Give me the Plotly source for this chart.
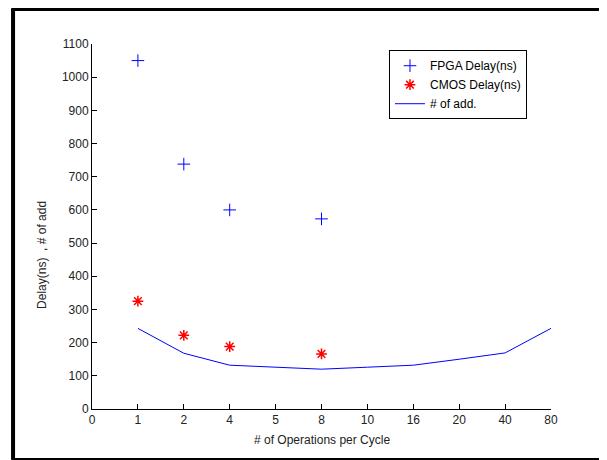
import plotly.graph_objects as go

# x positions are evenly spaced, labelled with the operation counts
tick_pos = [0, 1, 2, 3, 4, 5, 6, 7, 8, 9, 10]
tick_labels = ['0', '1', '2', '4', '5', '8', '10', '16', '20', '40', '80']

fpga_x = [1, 2, 3, 5]
fpga_delay = [1050, 738, 600, 573]

cmos_x = [1, 2, 3, 5]
cmos_delay = [325, 222, 188, 166]

add_x = [1, 2, 3, 4, 5, 6, 7, 8, 9, 10]
num_add = [243, 168, 132, 126, 120, 126, 132, 150, 169, 243]

font = dict(family='Arial, Liberation Sans, sans-serif', size=12, color='#222222')

fig = go.Figure()
fig.add_trace(go.Scatter(
    x=fpga_x, y=fpga_delay, mode='markers', name='FPGA Delay(ns)',
    marker=dict(symbol='cross-thin-open', size=9, color='blue', line=dict(color='blue', width=1))
))
fig.add_trace(go.Scatter(
    x=cmos_x, y=cmos_delay, mode='markers', name='CMOS Delay(ns)',
    marker=dict(symbol='asterisk-open', size=9, color='red', line=dict(color='red', width=1.5))
))
fig.add_trace(go.Scatter(
    x=add_x, y=num_add, mode='lines', name='# of add.',
    line=dict(color='blue', width=1)
))

# page has an 8px body margin, so margins are shifted to compensate
fig.update_layout(
    width=607, height=460,
    margin=dict(l=84, r=64, t=36, b=59),
    paper_bgcolor='white', plot_bgcolor='white',
    font=font,
    showlegend=True,
    legend=dict(
        x=0.647, y=0.983, xanchor='left', yanchor='top',
        bordercolor='black', borderwidth=1, bgcolor='white',
        font=dict(family='Arial, Liberation Sans, sans-serif', size=12, color='black'),
        tracegroupgap=0, itemwidth=30, entrywidth=120
    ),
    xaxis=dict(
        range=[0, 10], tickmode='array', tickvals=tick_pos, ticktext=tick_labels,
        showgrid=False, zeroline=False, showline=True, linecolor='black', linewidth=1,
        ticks='inside', ticklen=5, tickcolor='black', mirror=False
    ),
    yaxis=dict(
        range=[0, 1100], dtick=100,
        showgrid=False, zeroline=False, showline=True, linecolor='black', linewidth=1,
        ticks='inside', ticklen=5, tickcolor='black', mirror=False
    ),
    annotations=[
        dict(text='# of Operations per Cycle', xref='paper', yref='paper',
             x=0.5, y=-0.085, xanchor='center', yanchor='middle', showarrow=False,
             font=font),
        dict(text='Delay(ns)  , # of add', xref='paper', yref='paper',
             x=-0.109, y=0.422, xanchor='center', yanchor='middle', showarrow=False,
             textangle=-90, font=font),
    ],
    shapes=[
        # outer figure frame (left, top, bottom)
        dict(type='line', xref='paper', yref='paper', x0=-0.172, x1=-0.172, y0=-0.137, y1=1.096,
             line=dict(color='black', width=4)),
        dict(type='line', xref='paper', yref='paper', x0=-0.176, x1=1.2, y0=1.096, y1=1.096,
             line=dict(color='black', width=4)),
        dict(type='line', xref='paper', yref='paper', x0=-0.176, x1=1.2, y0=-0.137, y1=-0.137,
             line=dict(color='black', width=2)),
    ]
)

fig.write_html('out.html')
